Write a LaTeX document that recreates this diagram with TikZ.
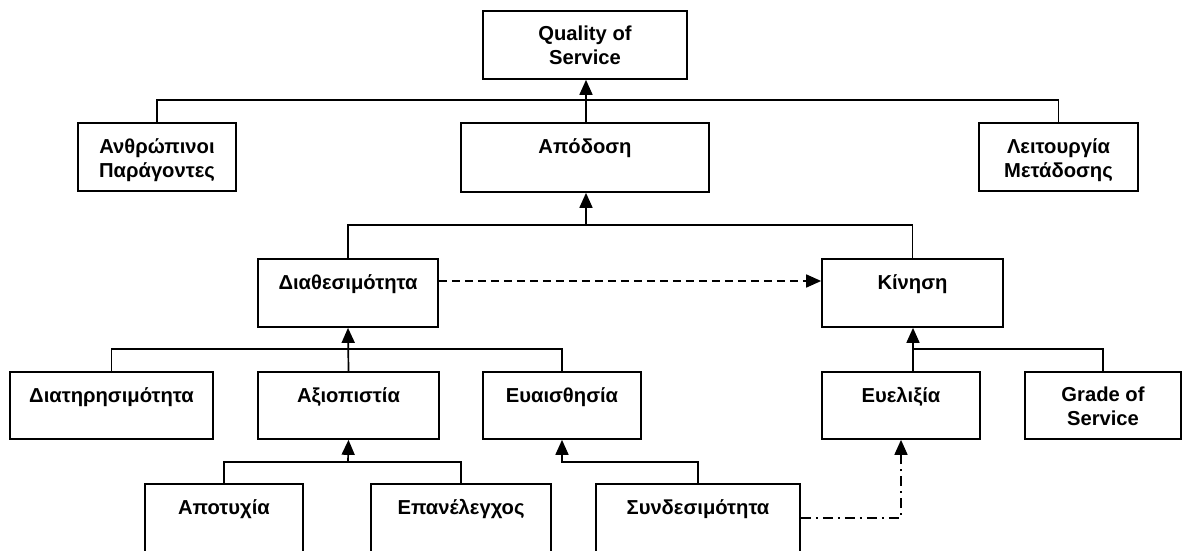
\documentclass[tikz,border=0pt]{standalone}
\usepackage{fontspec}
\setmainfont{Liberation Sans}
\usetikzlibrary{arrows.meta}

% box drawn from its corners (x1,y1,x2,y2), label set near its top edge
\newcommand\qbox[6]{%
  \node[qbox, minimum width={#4pt-#2pt}, minimum height={#5pt-#3pt}]
    (#1) at ({(#2+#4)/2},{(#3+#5)/2}) {};
  \node[qlabel] (#1-t) at ([yshift=-16pt]#1.north) {#6};
}

\begin{document}
\begin{tikzpicture}[x=1pt, y=-1pt,
  qbox/.style={draw, line width=1.7pt, inner sep=0pt},
  qlabel/.style={anchor=north, inner sep=0pt, align=center,
                 font=\fontsize{20.2}{24}\selectfont\bfseries},
  link/.style={line width=1.7pt},
  uparrow/.style={link, -{Triangle[length=15pt, width=13pt]}},
  dasharrow/.style={uparrow, dash pattern=on 8pt off 5pt},
  dotdasharrow/.style={uparrow, dash pattern=on 10pt off 5pt on 2pt off 5pt}]

\useasboundingbox (0,0) rectangle (1183,551);
\clip (0,0) rectangle (1183,551);

% top level
\qbox{qos}{483}{11}{687}{79}{Quality of\\Service}
\qbox{hum}{78}{123}{236}{191}{Ανθρώπινοι\\Παράγοντες}
\qbox{perf}{461}{123}{709}{192}{Απόδοση}
\qbox{trans}{979}{123}{1138}{191}{Λειτουργία\\Μετάδοσης}

% second level
\qbox{avail}{258}{259}{438}{327}{Διαθεσιμότητα}
\qbox{mob}{822}{259}{1003}{327}{Κίνηση}

% third level
\qbox{maint}{10}{372}{213}{439}{Διατηρησιμότητα}
\qbox{rel}{258}{372}{439}{439}{Αξιοπιστία}
\qbox{sens}{483}{372}{641}{439}{Ευαισθησία}
\qbox{flex}{822}{372}{980}{439}{Ευελιξία}
\qbox{gos}{1025}{372}{1181}{439}{Grade of\\Service}

% bottom level (boxes run past the lower edge)
\qbox{fail}{145}{484}{303}{570}{Αποτυχία}
\qbox{retry}{371}{484}{551}{570}{Επανέλεγχος}
\qbox{conn}{596}{484}{800}{570}{Συνδεσιμότητα}

% bus lines
\coordinate (b1) at (586,100);
\coordinate (b2) at (586,225);
\coordinate (b3) at (348,349);
\coordinate (b3r) at (913,349);
\coordinate (b4) at (348,462);
\coordinate (b4r) at (562,462);

\draw[link] (hum.north) |- (b1) -| (trans.north);
\draw[uparrow] (perf.north -| b1) -- (qos.south -| b1);

\draw[link] (avail.north) |- (b2) -| (mob.north);
\draw[uparrow] (b2) -- (perf.south -| b2);

\draw[link] (maint.north) |- (b3) -| (sens.north);
\draw[uparrow] (rel.north) -- (avail.south);

\draw[link] (b3r) -| (gos.north);
\draw[uparrow] (flex.north -| b3r) -- (mob.south -| b3r);

\draw[link] (fail.north) |- (b4) -| (retry.north);
\draw[uparrow] (b4) -- (rel.south);

\draw[uparrow] (conn.north) |- (b4r) -- (sens.south);

% cross links
\draw[dasharrow] ([yshift=12pt]avail.east) -- ([yshift=12pt]mob.west);
\draw[dotdasharrow] ([yshift=9pt]conn.east) -| (flex.south);

\end{tikzpicture}
\end{document}
